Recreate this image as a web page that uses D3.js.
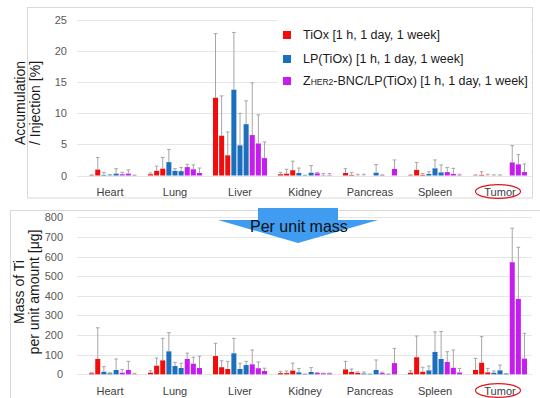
<!DOCTYPE html>
<html lang="en">
<head>
	<meta charset="utf-8">
	<script src="https://d3js.org/d3.v7.min.js"></script>
	<style type="text/css">
		body {
			margin: 0;
			font-family: "Liberation Sans", Arial, sans-serif;
		}
		.tick text {
			fill: #595959;
		}
	</style>
</head>
<body>
	<script type="text/javascript">
	var width = 540;
	var height = 398;

	var organs = ["Heart", "Lung", "Liver", "Kidney", "Pancreas", "Spleen", "Tumor"];
	var times = ["1 h", "1 day", "1 week"];
	var colors = ["#f20d0d", "#1b6fbd", "#c61cf2"];

	// accumulation / injection [%], per organ: [1 h, 1 day, 1 week]
	var pctTiOx = [[0, 0.05, 0.95], [0.2, 0.75, 1.1], [12.5, 6.4, 3.25], [0.2, 0.3, 0.85], [0.4, 0.1, 0.02], [0.05, 0.9, 0.1], [0.03, 0.1, 0.02]];
	var pctTiOxErr = [[0, 0.1, 2.9], [0.4, 1.5, 2.9], [22.8, 12.8, 7.0], [0.5, 1.0, 2.3], [1.1, 0.5, 0.2], [0.1, 2.1, 0.3], [0.1, 0.6, 0.2]];
	var pctLP = [[0.1, 0.05, 0.3], [2.15, 0.75, 0.7], [13.8, 4.85, 8.25], [0.4, 0.03, 0.45], [0.02, 0, 0.45], [0.25, 1.15, 0.5], [0.01, 0.02, 0]];
	var pctLPErr = [[0.5, 0.15, 1.1], [4.2, 1.1, 1.3], [23.0, 10.0, 12.0], [1.2, 0.05, 1.6], [0.2, 0, 1.75], [0.6, 2.5, 1.7], [0.1, 0.1, 0]];
	var pctZ = [[0.2, 0.3, 0.02], [1.35, 1.0, 0.4], [6.5, 5.15, 2.8], [0.35, 0.05, 0.05], [0.05, 0, 1.05], [0.55, 0.25, 0.05], [2.1, 1.8, 0.55]];
	var pctZErr = [[0.5, 0.9, 0.05], [1.8, 1.7, 1.2], [14.9, 9.75, 5.4], [0.5, 0.3, 0.3], [0.1, 0, 2.5], [1.3, 1.15, 0.2], [4.8, 3.35, 1.85]];

	// mass of Ti per unit amount [ug], per organ: [1 h, 1 day, 1 week]
	var massTiOx = [[0, 5, 78], [8, 44, 71], [93, 36, 27], [6, 6, 19], [25, 12, 7], [8, 87, 13], [22, 59, 10]];
	var massTiOxErr = [[0, 8, 237], [18, 83, 183], [158, 69, 66], [15, 17, 57], [66, 27, 12], [18, 195, 36], [81, 192, 30]];
	var massLP = [[13, 5, 22], [117, 42, 32], [107, 27, 47], [10, 1, 12], [4, 1, 22], [20, 114, 78], [8, 20, 3]];
	var massLPErr = [[39, 8, 78], [212, 61, 56], [183, 56, 66], [30, 2, 34], [12, 2, 73], [42, 216, 218], [17, 47, 4]];
	var massZ = [[8, 22, 1], [78, 54, 32], [51, 31, 17], [7, 5, 5], [6, 1, 57], [63, 33, 9], [571, 384, 80]];
	var massZErr = [[25, 66, 5], [108, 87, 92], [124, 63, 31], [8, 6, 6], [11, 2, 132], [115, 124, 30], [744, 647, 209]];

	var pctTicks = [0, 5, 10, 15, 20, 25];
	var massTicks = [0, 100, 200, 300, 400, 500, 600, 700, 800];

	var svg = d3.select("body")
				.append("svg")
				.attr("width", width)
				.attr("height", height)
				.style("background", "#fff");

	var x = d3.scaleBand()
			  .domain(organs)
			  .range([77.5, 532.5]);

	// 9 bars inside each organ: 3 samples x 3 time points
	var slot = d3.scaleBand()
				 .domain(d3.range(9))
				 .range([4.4, 60.6])
				 .padding(0.18);

	function rows(series, errs) {
		var out = [];
		organs.forEach(function(o, i) {
			series.forEach(function(s, k) {
				times.forEach(function(t, j) {
					out.push({organ: o, slot: k * 3 + j, value: s[i][j], err: errs[k][i][j], color: colors[k]});
				});
			});
		});
		return out;
	}

	function drawChart(y, ticks, data, tickX, labelY) {
		var g = svg.append("g");

		g.selectAll("line.grid")
		 .data(ticks)
		 .enter()
		 .append("line")
		 .attr("x1", 77)
		 .attr("x2", 532)
		 .attr("y1", function(d) { return Math.round(y(d)) + 0.5; })
		 .attr("y2", function(d) { return Math.round(y(d)) + 0.5; })
		 .style("stroke", "#e6e6e6")
		 .style("stroke-width", 1);

		var yAxis = g.append("g")
					 .attr("transform", "translate(" + tickX + ",0)")
					 .call(d3.axisLeft(y).tickValues(ticks).tickSize(0).tickPadding(3));
		yAxis.select(".domain").remove();
		yAxis.selectAll("text").style("font-size", "11px");

		var xAxis = g.append("g")
					 .attr("transform", "translate(0," + y(0) + ")")
					 .call(d3.axisBottom(x).tickSize(0).tickPadding(labelY - y(0) - 7.8));
		xAxis.select(".domain").remove();
		xAxis.selectAll("text").style("font-size", "11px").style("fill", "#404040");

		g.selectAll("rect.bar")
		 .data(data)
		 .enter()
		 .append("rect")
		 .attr("x", function(d) { return x(d.organ) + slot(d.slot); })
		 .attr("y", function(d) { return y(d.value); })
		 .attr("width", slot.bandwidth())
		 .attr("height", function(d) { return y(0) - y(d.value); })
		 .style("fill", function(d) { return d.color; });

		var eb = g.selectAll("g.err")
				  .data(data.filter(function(d) { return d.err > d.value; }))
				  .enter()
				  .append("g")
				  .attr("transform", function(d) { return "translate(" + (x(d.organ) + slot(d.slot) + slot.bandwidth() / 2) + ",0)"; });
		eb.append("line")
		  .attr("y1", function(d) { return y(d.value); })
		  .attr("y2", function(d) { return y(d.err); })
		  .style("stroke", "#a6a6a6");
		eb.append("line")
		  .attr("x1", -1.8)
		  .attr("x2", 1.8)
		  .attr("y1", function(d) { return y(d.err); })
		  .attr("y2", function(d) { return y(d.err); })
		  .style("stroke", "#a6a6a6");

		// circle round "Tumor"
		g.append("ellipse")
		 .attr("cx", x("Tumor") + x.bandwidth() / 2 - 2)
		 .attr("cy", labelY - 4.5)
		 .attr("rx", 22.5)
		 .attr("ry", 6.8)
		 .style("fill", "none")
		 .style("stroke", "#e0141e")
		 .style("stroke-width", 1.2);
	}

	// panel frames
	svg.append("rect")
	   .attr("x", 27.5).attr("y", 7.5)
	   .attr("width", 505).attr("height", 190.5)
	   .style("fill", "none").style("stroke", "#d9d9d9");
	svg.append("rect")
	   .attr("x", 10.5).attr("y", 210.5)
	   .attr("width", 540).attr("height", 200)
	   .style("fill", "none").style("stroke", "#d9d9d9");

	var yTop = d3.scaleLinear().domain([0, 25]).range([175.5, 20]);
	var yBottom = d3.scaleLinear().domain([0, 800]).range([374.3, 217.3]);

	drawChart(yTop, pctTicks, rows([pctTiOx, pctLP, pctZ], [pctTiOxErr, pctLPErr, pctZErr]), 70, 196);
	drawChart(yBottom, massTicks, rows([massTiOx, massLP, massZ], [massTiOxErr, massLPErr, massZErr]), 66, 395);

	// axis titles
	function yTitle(lines, cy, xs) {
		lines.forEach(function(t, i) {
			svg.append("text")
			   .attr("transform", "translate(" + xs[i] + "," + cy + ") rotate(-90)")
			   .attr("text-anchor", "middle")
			   .style("font-size", "14px")
			   .style("fill", "#1a1a1a")
			   .text(t);
		});
	}
	yTitle(["Accumulation", "/ Injection [%]"], 103, [24.5, 39.5]);
	yTitle(["Mass of Ti", "per unit amount [\u03bcg]"], 292, [23.5, 39]);

	// legend
	var legendText = ["TiOx [1 h, 1 day, 1 week]", "LP(TiOx) [1 h, 1 day, 1 week]", "-BNC/LP(TiOx) [1 h, 1 day, 1 week]"];
	svg.append("rect")
	   .attr("x", 277).attr("y", 14)
	   .attr("width", 254).attr("height", 86)
	   .style("fill", "#fff");

	var legend = svg.selectAll("g.legend")
					.data(legendText)
					.enter()
					.append("g")
					.attr("transform", function(d, i) { return "translate(283," + [31, 55, 77][i] + ")"; });

	legend.append("rect")
		  .attr("width", 8)
		  .attr("height", 8)
		  .style("fill", function(d, i) { return colors[i]; });

	var lt = legend.append("text")
				   .attr("x", 20)
				   .attr("y", 8)
				   .style("font-size", "12.5px")
				   .style("fill", "#1a1a1a");
	lt.filter(function(d, i) { return i == 2; })
	  .append("tspan").text("Z");
	lt.filter(function(d, i) { return i == 2; })
	  .append("tspan").style("font-size", "8.5px").text("HER2");
	lt.append("tspan").text(function(d) { return d; });

	// "Per unit mass" arrow
	svg.append("path")
	   .attr("d", "M258,208 L338,208 L338,220 L378,220 L298,243 L218,220 L258,220 Z")
	   .style("fill", "#3f9cf0");
	svg.append("text")
	   .attr("x", 250)
	   .attr("y", 232)
	   .style("font-size", "16px")
	   .style("fill", "#111")
	   .text("Per unit mass");
	</script>
</body>
</html>
